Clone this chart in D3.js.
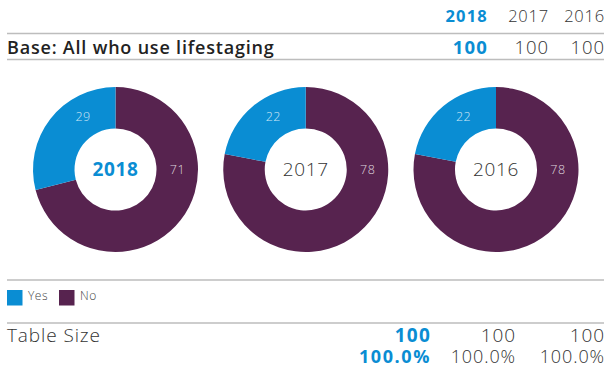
<!DOCTYPE html>
<html>
<head>
<meta charset="utf-8">
<script src="https://cdn.jsdelivr.net/npm/d3@7"></script>
<style>
  html, body { margin: 0; padding: 0; background: #fff; }
  svg { display: block; font-family: "Open Sans", sans-serif; }
</style>
</head>
<body>
<svg id="chart" width="604" height="367"></svg>
<script>
// Survey years, newest first
const years = ["2018", "2017", "2016"];
// Share of respondents answering Yes / No in each year
const seriesNames = ["Yes", "No"];
const yesValues = [29, 22, 22];
const noValues = [71, 78, 78];
// Base sizes shown in the header table and footer
const baseLabel = "Base: All who use lifestaging";
const baseCounts = [100, 100, 100];
const footerLabel = "Table Size";
const tableSizes = [100, 100, 100];
const tablePercents = [100.0, 100.0, 100.0];

const BLUE = "#0a8dd3";
const PURPLE = "#57234f";
const DARK = "#333333";
const RULE = "#bdbdbd";
const W = 604;

const svg = d3.select("#chart");
const colour = d3.scaleOrdinal().domain(seriesNames).range([BLUE, PURPLE]);
const isCurrent = (i) => i === 0;

// Current year is bold blue, earlier years light grey-black
function styleCell(sel, boldSpacing, lightSpacing) {
  return sel
    .attr("font-weight", (d, i) => isCurrent(i) ? 700 : 300)
    .attr("fill", (d, i) => isCurrent(i) ? BLUE : DARK)
    .attr("letter-spacing", (d, i) => isCurrent(i) ? boldSpacing : lightSpacing);
}

// Horizontal rules separating the table sections
[33.5, 59.5, 280, 323].forEach(y => {
  svg.append("line")
    .attr("x1", 7).attr("x2", W).attr("y1", y).attr("y2", y)
    .attr("stroke", RULE).attr("stroke-width", 1.6);
});

// Header: year columns (right-aligned)
const headX = d3.scaleOrdinal().domain(years).range([487, 548, 604]);
svg.selectAll("text.head").data(years).join("text")
  .attr("class", "head")
  .attr("x", d => headX(d) + 1).attr("y", 21.5)
  .attr("text-anchor", "end")
  .attr("font-size", 16.5)
  .call(styleCell, 1.2, 0.8)
  .text(d => d);

// Base row
svg.append("text")
  .attr("x", 7).attr("y", 54)
  .attr("font-size", 18).attr("font-weight", 600).attr("fill", "#222")
  .attr("letter-spacing", 0.8)
  .text(baseLabel);
svg.selectAll("text.base").data(baseCounts).join("text")
  .attr("class", "base")
  .attr("x", (d, i) => headX(years[i]) + 1).attr("y", 54)
  .attr("text-anchor", "end")
  .attr("font-size", 18.5)
  .call(styleCell, 1.2, 0.9)
  .text(d => d);

// Donut charts, one per year
const cx = d3.scalePoint().domain(years).range([115.5, 496]);
const cy = 169.5;
const outerR = 82.5, innerR = 41, labelR = 62;

const pie = d3.pie().sort(null).value(d => d.value);
const arc = d3.arc().innerRadius(innerR).outerRadius(outerR);

// Label angle: the first slice is labelled near its leading edge,
// the last slice near its trailing edge (both close to 12 o'clock)
function labelAngle(d, i, n) {
  const span = d.endAngle - d.startAngle;
  if (i === 0) return d.startAngle + Math.min(span / 2, Math.PI / 2);
  if (i === n - 1) return d.endAngle - Math.min(span / 2, 0.55);
  return (d.startAngle + d.endAngle) / 2;
}

years.forEach((year, yi) => {
  // Drawn clockwise from 12 o'clock: No first, Yes closing the ring
  const slices = [
    { key: "No", value: noValues[yi] },
    { key: "Yes", value: yesValues[yi] }
  ];
  const arcs = pie(slices);
  const g = svg.append("g").attr("transform", `translate(${cx(year)},${cy})`);

  g.selectAll("path").data(arcs).join("path")
    .attr("d", arc)
    .attr("fill", d => colour(d.data.key));

  g.selectAll("text.val").data(arcs).join("text")
    .attr("class", "val")
    .attr("x", (d, i) => labelR * Math.sin(labelAngle(d, i, arcs.length)))
    .attr("y", (d, i) => -labelR * Math.cos(labelAngle(d, i, arcs.length)))
    .attr("dy", "0.35em")
    .attr("text-anchor", "middle")
    .attr("font-size", 12.5).attr("font-weight", 300)
    .attr("letter-spacing", 0.5)
    .attr("fill", "#fff").attr("fill-opacity", 0.8)
    .text(d => d.data.value);

  g.append("text")
    .attr("y", 0).attr("dy", "0.36em")
    .attr("text-anchor", "middle")
    .attr("font-size", 19)
    .attr("font-weight", isCurrent(yi) ? 700 : 300)
    .attr("letter-spacing", isCurrent(yi) ? 0.6 : 0.6)
    .attr("fill", isCurrent(yi) ? BLUE : DARK)
    .text(year);
});

// Legend
const legend = svg.append("g").attr("transform", "translate(7,290)");
const legX = d3.scaleOrdinal().domain(seriesNames).range([0, 52]);
seriesNames.forEach(name => {
  const item = legend.append("g").attr("transform", `translate(${legX(name)},0)`);
  item.append("rect").attr("width", 15.5).attr("height", 15.5).attr("fill", colour(name));
  item.append("text").attr("x", 21).attr("y", 9.5)
    .attr("font-size", 12).attr("font-weight", 300).attr("fill", "#444")
    .attr("letter-spacing", 0.5)
    .text(name);
});

// Footer: table size
const footX = d3.scaleOrdinal().domain(years).range([430, 515, 604]);
svg.append("text")
  .attr("x", 7).attr("y", 341.5)
  .attr("font-size", 19).attr("font-weight", 300).attr("fill", DARK)
  .attr("letter-spacing", 0.9)
  .text(footerLabel);
svg.selectAll("text.size").data(tableSizes).join("text")
  .attr("class", "size")
  .attr("x", (d, i) => footX(years[i]) + 1).attr("y", 341.5)
  .attr("text-anchor", "end")
  .attr("font-size", 19)
  .call(styleCell, 1.2, 0.9)
  .text(d => d);
svg.selectAll("text.pct").data(tablePercents).join("text")
  .attr("class", "pct")
  .attr("x", (d, i) => footX(years[i]) + 1).attr("y", 362.5)
  .attr("text-anchor", "end")
  .attr("font-size", 18)
  .call(styleCell, 1.6, 0.9)
  .text(d => d3.format(".1f")(d) + "%");
</script>
</body>
</html>
